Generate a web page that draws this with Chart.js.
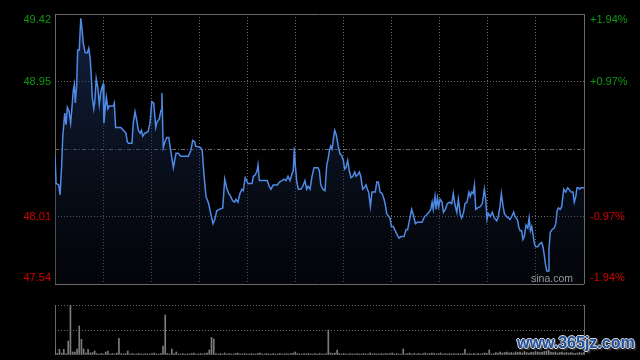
<!DOCTYPE html>
<html lang="zh-CN">
<head>
<meta charset="UTF-8">
<title>分时走势</title>
<script src="https://cdn.jsdelivr.net/npm/chart.js"></script>
<style>
  body { margin: 0; background: #000; width: 640px; height: 360px; overflow: hidden; position: relative; }
  #priceChart { position: absolute; left: 0; top: 0; }
  #volChart { position: absolute; left: 0; top: 290px; }
  #mark {
    position: absolute; left: 517px; top: 334px;
    font: bold 16px Arial, "Liberation Sans", sans-serif;
    color: #1f4f9e;
    text-shadow: 1px 0 0 #d8d8d8, -1px 0 0 #d8d8d8, 0 1px 0 #d8d8d8, 0 -1px 0 #d8d8d8, 2px 2px 2px #555;
  }
</style>
</head>
<body>
<canvas id="priceChart" width="640" height="290"></canvas>
<canvas id="volChart" width="640" height="70"></canvas>
<div id="mark">www.365jz.com</div>

<script>
// 价格数据 (分钟, 价格) - 从图上读出
const minutes = [0,0.5,1.7,2.3,3.0,3.5,4.4,5.0,5.6,6.4,7.1,7.7,8.3,8.8,9.2,9.8,10.3,11.0,11.7,12.3,12.8,13.7,14.7,15.3,15.9,16.5,16.9,17.6,18.1,18.7,19.4,20.1,20.7,21.3,21.8,22.2,22.8,23.3,24.0,24.6,26.5,26.9,27.5,29.8,31.0,32.2,32.8,33.4,34.9,35.5,36.3,37.1,37.8,38.6,39.2,39.8,40.7,42.2,43.1,43.9,44.8,45.7,46.3,47.3,48.1,48.5,49.1,49.9,50.7,51.6,52.5,53.7,54.9,55.9,57.0,59.4,60.5,61.6,62.5,63.4,63.8,66.1,66.8,67.6,68.5,69.7,70.8,71.7,72.5,73.4,74.5,76.1,77.0,77.9,78.8,79.7,80.6,81.5,82.1,83.0,83.9,84.8,85.4,86.3,87.6,89.4,90.0,90.9,91.7,92.1,92.7,96.3,97.2,98.0,99.0,100.9,101.8,103.0,103.9,104.8,105.7,106.6,107.4,108.1,108.6,109.0,109.7,110.4,111.5,112.4,113.4,114.2,114.8,115.7,116.6,117.5,119.3,119.9,120.6,121.5,122.5,123.3,123.9,124.5,125.1,125.7,126.3,126.9,127.6,128.4,129.2,130.2,130.8,131.4,132.0,132.8,133.5,134.3,135.1,136.0,136.6,137.3,138.1,138.7,139.6,140.3,141.1,141.7,142.3,143.1,143.8,145.3,146.0,146.7,147.5,148.4,149.3,150.0,150.5,151.4,152.0,152.6,153.5,154.4,155.3,156.1,156.9,158.3,159.3,160.0,160.9,161.8,162.6,163.5,164.4,166.5,167.7,168.6,169.6,170.5,171.1,171.6,172.4,172.9,173.5,174.1,174.7,175.6,176.2,177.1,178.0,179.1,180.0,180.7,181.5,182.3,183.0,183.9,184.5,185.4,186.0,186.9,187.8,188.4,189.0,189.7,190.3,190.9,191.8,193.0,193.9,194.8,195.4,196.0,196.6,197.5,198.4,199.3,200.4,201.1,201.9,202.5,203.3,203.9,204.8,205.7,206.4,207.2,208.1,208.7,209.3,209.9,210.5,211.1,211.7,212.3,212.9,213.7,214.5,215.1,215.7,216.3,216.9,217.5,218.1,219.0,219.9,220.8,221.4,222.0,222.6,223.1,223.7,224.1,224.7,225.6,226.5,227.2,227.8,228.4,229.2,229.9,230.8,231.7,232.6,233.2,234.1,235.0,235.6,236.3,236.8,237.4,238.0,238.6,240];
const prices = [48.44,48.24,48.23,48.16,48.36,48.56,48.73,48.65,48.77,48.74,48.66,48.77,48.89,48.93,48.80,48.91,49.17,49.17,49.39,49.31,49.22,49.15,49.15,49.18,49.12,48.98,48.84,48.76,48.82,48.97,48.91,48.79,48.87,48.91,48.93,48.66,48.77,48.84,48.76,48.78,48.78,48.80,48.63,48.63,48.61,48.59,48.53,48.52,48.52,48.66,48.74,48.68,48.61,48.59,48.61,48.57,48.59,48.60,48.66,48.81,48.80,48.63,48.67,48.69,48.75,48.87,48.49,48.53,48.56,48.56,48.47,48.35,48.45,48.45,48.43,48.43,48.43,48.47,48.54,48.53,48.50,48.49,48.47,48.30,48.15,48.10,48.02,47.96,47.99,48.05,48.06,48.07,48.27,48.21,48.17,48.15,48.12,48.11,48.13,48.11,48.17,48.20,48.19,48.28,48.24,48.24,48.29,48.30,48.33,48.37,48.26,48.26,48.22,48.20,48.23,48.23,48.25,48.26,48.27,48.26,48.29,48.26,48.30,48.33,48.49,48.37,48.25,48.20,48.20,48.22,48.26,48.20,48.22,48.20,48.29,48.35,48.35,48.33,48.23,48.20,48.19,48.37,48.41,48.47,48.50,48.48,48.55,48.61,48.58,48.51,48.45,48.43,48.40,48.34,48.35,48.40,48.33,48.28,48.29,48.32,48.29,48.30,48.32,48.29,48.20,48.21,48.23,48.20,48.18,48.08,48.18,48.18,48.25,48.25,48.18,48.17,48.13,48.08,48.03,48.01,48.00,47.94,47.94,47.91,47.88,47.86,47.87,47.87,47.92,47.92,47.99,48.06,48.02,47.96,47.97,47.97,48.01,48.02,48.04,48.06,48.11,48.06,48.15,48.06,48.14,48.08,48.13,48.11,48.04,48.06,48.10,48.11,48.10,48.17,48.09,48.04,48.13,48.02,48.00,48.04,48.10,48.11,48.18,48.15,48.18,48.17,48.23,48.06,48.07,48.08,48.10,48.20,48.13,47.99,48.03,48.01,48.04,48.00,47.98,48.01,48.08,48.17,48.08,48.03,48.01,48.00,47.99,48.01,48.04,48.01,48.00,47.98,47.93,47.91,47.91,47.85,47.87,47.95,47.93,48.00,47.91,47.94,47.88,47.82,47.80,47.80,47.82,47.83,47.80,47.74,47.67,47.63,47.63,47.78,47.90,47.92,47.93,47.96,48.05,48.07,48.06,48.08,48.20,48.18,48.21,48.20,48.18,48.18,48.11,48.15,48.21,48.21,48.20,48.21,48.21];

// 成交量 (每分钟, 相对单位)
const volume = [
  57,17,57,20,57,15,140,500,30,30,60,290,157,60,20,57,20,25,40,15,
  10,15,10,30,40,10,15,10,20,167,15,10,15,40,10,15,10,10,15,10,
  10,15,10,10,15,20,10,10,15,90,400,15,10,60,15,30,10,10,15,10,
  10,10,15,20,10,10,15,10,15,20,50,177,160,15,10,15,10,20,10,15,
  10,10,15,20,10,10,15,10,10,15,10,10,15,20,10,10,15,10,10,15,
  10,10,15,10,10,15,10,15,20,30,15,10,10,15,10,17,10,10,15,10,
  15,10,10,15,250,20,15,20,50,15,10,15,10,10,15,10,10,15,10,10,
  15,10,10,20,10,15,10,10,15,10,15,10,15,20,10,15,10,10,60,10,
  15,20,10,15,10,15,10,15,20,10,15,20,15,10,15,20,10,15,10,15,
  10,15,10,15,10,15,57,10,15,10,15,10,15,10,15,20,15,50,10,15,
  25,20,30,20,25,30,20,25,20,30,25,30,20,35,25,20,30,25,35,30,
  25,30,35,40,45,30,25,30,20,25,30,20,25,20,25,20,15,20,25,20,30
];

const prevClose = 48.48;
const priceTicks = [47.54, 48.01, 48.48, 48.95, 49.42];
const leftLabels = ['47.54', '48.01', '', '48.95', '49.42'];
const rightLabels = ['-1.94%', '-0.97%', '', '+0.97%', '+1.94%'];
const gridMinutes = [0, 21.82, 43.64, 65.45, 87.27, 109.09, 130.91, 152.73, 174.55, 196.36, 218.18, 240];

const gridColor = '#6a6a6a';
const font = '11px Arial, "Liberation Sans", sans-serif';

// 两侧刻度文字 + sina.com
const sideLabels = {
  id: 'sideLabels',
  afterDraw(chart) {
    const { ctx, chartArea, scales: { y } } = chart;
    ctx.save();
    ctx.font = font;
    ctx.textBaseline = 'middle';
    priceTicks.forEach((v, i) => {
      if (!leftLabels[i]) return;
      let py = y.getPixelForValue(v);
      if (i === 0) py -= 6.5;
      if (i === priceTicks.length - 1) py += 6;
      ctx.fillStyle = v > prevClose ? '#109a10' : '#d40000';
      ctx.textAlign = 'right';
      ctx.fillText(leftLabels[i], chartArea.left - 4, py);
      ctx.textAlign = 'left';
      ctx.fillText(rightLabels[i], chartArea.right + 6, py);
    });
    ctx.fillStyle = '#9a9a9a';
    ctx.textAlign = 'right';
    ctx.font = '10.5px Arial, "Liberation Sans", sans-serif';
    ctx.fillText('sina.com', chartArea.right - 11, chartArea.bottom - 5);
    ctx.restore();
  }
};

const priceCtx = document.getElementById('priceChart').getContext('2d');
new Chart(priceCtx, {
  type: 'line',
  data: {
    datasets: [{
      data: minutes.map((m, i) => ({ x: m, y: prices[i] })),
      borderColor: '#4f8ae6',
      borderWidth: 1.5,
      pointRadius: 0,
      tension: 0,
      fill: 'start',
      backgroundColor: (c) => {
        const area = c.chart.chartArea;
        if (!area) return 'transparent';
        const g = c.chart.ctx.createLinearGradient(0, area.top, 0, area.bottom);
        g.addColorStop(0, 'rgba(36, 62, 115, 0.55)');
        g.addColorStop(1, 'rgba(10, 15, 30, 0.3)');
        return g;
      }
    }]
  },
  options: {
    responsive: false,
    animation: false,
    layout: { padding: { top: 14, right: 56, bottom: 6, left: 0 } },
    plugins: { legend: { display: false }, tooltip: { enabled: false } },
    scales: {
      x: {
        type: 'linear', min: 0, max: 240,
        afterBuildTicks: s => { s.ticks = gridMinutes.map(v => ({ value: v })); },
        afterFit: s => { s.height = 0; },
        ticks: { display: false },
        grid: { color: gridColor, drawTicks: false },
        border: { display: false, dash: c => (c.index === 0 || c.index === gridMinutes.length - 1) ? [] : [1, 2] }
      },
      y: {
        position: 'left', min: 47.54, max: 49.42,
        afterBuildTicks: s => { s.ticks = priceTicks.map(v => ({ value: v })); },
        afterFit: s => { s.width = 55; },
        ticks: { display: false },
        grid: { color: gridColor, drawTicks: false },
        border: {
          display: false,
          dash: c => (c.index === 0 || c.index === priceTicks.length - 1) ? [] : (c.index === 2 ? [4, 2, 1, 2] : [1, 2])
        }
      }
    }
  },
  plugins: [sideLabels]
});

const volMax = Math.max(...volume);
const volCtx = document.getElementById('volChart').getContext('2d');
new Chart(volCtx, {
  type: 'bar',
  data: {
    datasets: [{
      data: volume.map((v, i) => ({ x: i, y: v })),
      backgroundColor: '#7c7c7c',
      barThickness: 1
    }]
  },
  options: {
    responsive: false,
    animation: false,
    layout: { padding: { top: 15, right: 56, bottom: 5, left: 0 } },
    plugins: { legend: { display: false }, tooltip: { enabled: false } },
    scales: {
      x: {
        type: 'linear', min: 0, max: 240,
        offset: false,
        afterBuildTicks: s => { s.ticks = [{ value: 0 }, { value: 240 }]; },
        afterFit: s => { s.height = 0; },
        ticks: { display: false },
        grid: { color: gridColor, drawTicks: false, offset: false },
        border: { display: false }
      },
      y: {
        min: 0, max: volMax,
        afterBuildTicks: s => { s.ticks = [0, volMax / 2, volMax].map(v => ({ value: v })); },
        afterFit: s => { s.width = 55; },
        ticks: { display: false },
        grid: { color: c => c.index === 0 ? 'transparent' : gridColor, drawTicks: false },
        border: { display: false, dash: [1, 2] }
      }
    }
  }
});
</script>
</body>
</html>
